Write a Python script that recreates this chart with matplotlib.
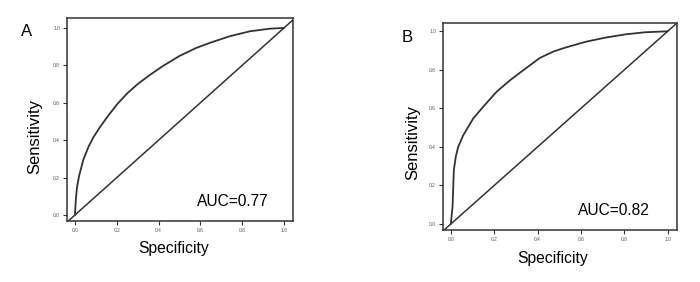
import matplotlib
matplotlib.use("Agg")
import matplotlib.pyplot as plt

plt.rcParams['font.family'] = ['Liberation Sans', 'DejaVu Sans']

# Data
spec_a = [0, 0.004, 0.01, 0.02, 0.04, 0.065, 0.088, 0.12, 0.152, 0.2, 0.25, 0.3, 0.36,
          0.423, 0.5, 0.58, 0.65, 0.742, 0.837, 0.933, 1.0]
sens_a = [0, 0.08, 0.15, 0.21, 0.295, 0.365, 0.415, 0.47, 0.52, 0.59, 0.65, 0.70, 0.75,
          0.798, 0.85, 0.893, 0.922, 0.956, 0.982, 0.996, 1.0]
spec_b = [0, 0.008, 0.014, 0.023, 0.034, 0.057, 0.103, 0.149, 0.211, 0.273, 0.334, 0.411,
          0.473, 0.527, 0.62, 0.712, 0.804, 0.897, 1.0]
sens_b = [0, 0.09, 0.28, 0.35, 0.40, 0.46, 0.547, 0.608, 0.686, 0.746, 0.798, 0.862,
          0.895, 0.915, 0.945, 0.967, 0.984, 0.995, 1.0]
ticks = [0.0, 0.2, 0.4, 0.6, 0.8, 1.0]
tick_labels = ["0.0", "0.2", "0.4", "0.6", "0.8", "1.0"]
panels = ["A", "B"]
auc_labels = ["AUC=0.77", "AUC=0.82"]

W, H = 700, 282
fig = plt.figure(figsize=(W / 100, H / 100), dpi=100)

def px_axes(l, t, r, b):
    return fig.add_axes([l / W, (H - b) / H, (r - l) / W, (b - t) / H])

line_col = "#333333"
boxes = [(67, 18, 293, 221), (443, 23, 677, 230)]
lims = [((-0.038, 1.043), (-0.032, 1.053)), ((-0.036, 1.043), (-0.031, 1.043))]
curves = [(spec_a, sens_a), (spec_b, sens_b)]
letter_pos = [(27, 32), (407, 37)]
sens_pos = [(35, 137), (413, 143)]
spec_pos = [(174, 248), (553, 258)]

for i in range(2):
    ax = px_axes(*boxes[i])
    ax.set_xlim(*lims[i][0])
    ax.set_ylim(*lims[i][1])
    x, y = curves[i]
    ax.plot(x, y, color=line_col, lw=1.3, solid_capstyle='round',
            solid_joinstyle='round')
    ax.plot([-0.1, 1.1], [-0.1, 1.1], color=line_col, lw=1.1)
    ax.set_xticks(ticks)
    ax.set_yticks(ticks)
    ax.set_xticklabels(tick_labels)
    ax.set_yticklabels(tick_labels)
    ax.tick_params(labelsize=3.5, length=3, width=0.8, color=line_col,
                   labelcolor="#555555", pad=2)
    for s in ax.spines.values():
        s.set_color(line_col)
        s.set_linewidth(1.1)
    ax.text(0.585, 0.07, auc_labels[i], fontsize=11.2, va='center', ha='left',
            color="#000000")
    fig.text(letter_pos[i][0] / W, 1 - letter_pos[i][1] / H, panels[i],
             fontsize=12, ha='center', va='center', color="#000000")
    fig.text(sens_pos[i][0] / W, 1 - sens_pos[i][1] / H, "Sensitivity",
             fontsize=12, rotation=90, ha='center', va='center', color="#000000")
    fig.text(spec_pos[i][0] / W, 1 - spec_pos[i][1] / H, "Specificity",
             fontsize=11.3, ha='center', va='center', color="#000000")

fig.savefig("out.png", dpi=100, facecolor="white")
